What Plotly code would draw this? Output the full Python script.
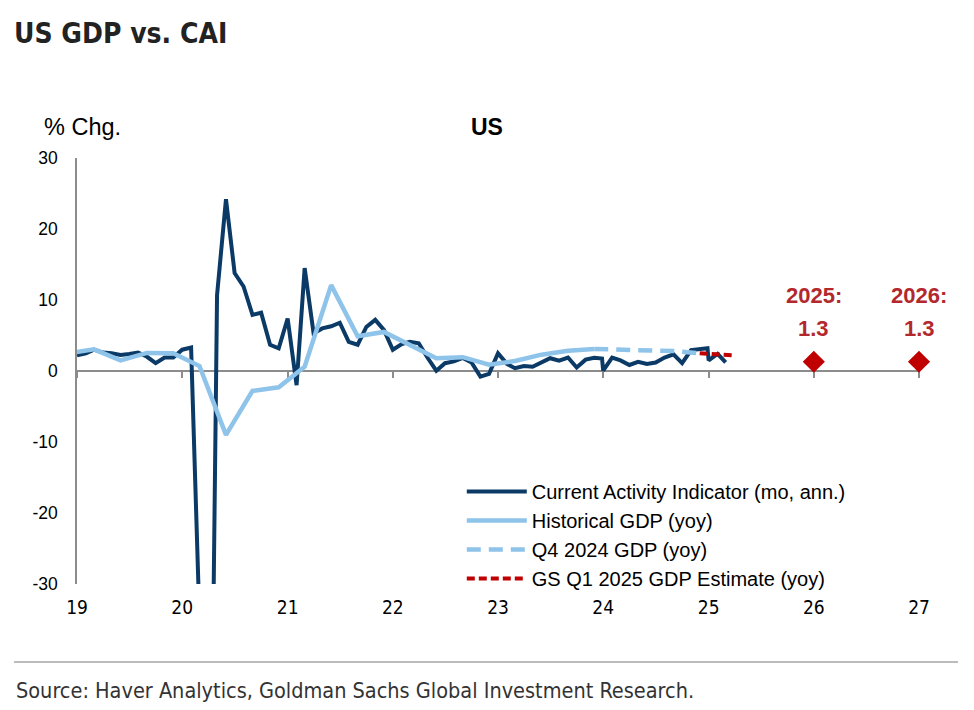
import plotly.graph_objects as go

# ---------------- data ----------------
cai_dates = [
    "2019-01", "2019-02", "2019-03", "2019-04", "2019-05", "2019-06",
    "2019-07", "2019-08", "2019-09", "2019-10", "2019-11", "2019-12",
    "2020-01", "2020-02", "2020-03", "2020-04", "2020-05", "2020-06",
    "2020-07", "2020-08", "2020-09", "2020-10", "2020-11", "2020-12",
    "2021-01", "2021-02", "2021-03", "2021-04", "2021-05", "2021-06",
    "2021-07", "2021-08", "2021-09", "2021-10", "2021-11", "2021-12",
    "2022-01", "2022-02", "2022-03", "2022-04", "2022-05", "2022-06",
    "2022-07", "2022-08", "2022-09", "2022-10", "2022-11", "2022-12",
    "2023-01", "2023-02", "2023-03", "2023-04", "2023-05", "2023-06",
    "2023-07", "2023-08", "2023-09", "2023-10", "2023-11", "2023-12",
    "2023-12-28",
    "2024-01", "2024-02", "2024-03", "2024-04", "2024-05", "2024-06",
    "2024-07", "2024-08", "2024-09", "2024-10", "2024-11", "2024-12",
    "2024-12-28",
    "2025-01", "2025-02", "2025-03",
]
cai_values = [
    2.2, 2.5, 3.0, 2.6, 2.5, 2.25, 2.4, 2.6, 2.0, 1.1, 1.9, 1.9,
    3.0, 3.3, -35.0, -95.0, 10.7, 24.2, 13.8, 11.9, 7.9, 8.2, 3.7, 3.2,
    7.4, -2.0, 14.5, 5.3, 6.0, 6.3, 6.8, 4.1, 3.7, 6.2, 7.2, 5.8,
    3.0, 3.8, 4.1, 3.9, 1.9, 0.05, 1.1, 1.35, 1.85, 1.2, -0.8, -0.4,
    2.5, 1.0, 0.4, 0.7, 0.6, 1.2, 1.8, 1.45, 1.9, 0.5, 1.6, 1.85,
    1.75,
    0.05, 1.9, 1.5, 0.85, 1.3, 1.0, 1.2, 1.9, 2.35, 1.1, 2.95, 3.1,
    3.2,
    1.5, 2.4, 1.2,
]

gdp_dates = [
    "2018-12", "2019-03", "2019-06", "2019-09", "2019-12",
    "2020-03", "2020-06", "2020-09", "2020-12",
    "2021-03", "2021-06", "2021-09", "2021-12",
    "2022-03", "2022-06", "2022-09", "2022-12",
    "2023-03", "2023-06", "2023-09", "2023-12",
]
gdp_values = [
    2.5, 3.05, 1.5, 2.55, 2.5,
    0.7, -9.0, -2.8, -2.3,
    0.6, 12.1, 4.9, 5.5,
    3.7, 1.8, 1.95, 0.9,
    1.4, 2.3, 2.85, 3.1,
]

q4_dates = ["2023-12", "2024-03", "2024-06", "2024-09", "2024-12"]
q4_values = [3.1, 3.05, 3.0, 2.8, 2.5]

gs_dates = ["2024-12", "2025-04"]
gs_values = [2.5, 2.2]

annual_dates = ["2026-01", "2027-01"]
annual_values = [1.3, 1.3]
annual_labels = ["2025:", "2026:"]

year_ticks = ["2019-01-01", "2020-01-01", "2021-01-01", "2022-01-01", "2023-01-01",
              "2024-01-01", "2025-01-01", "2026-01-01", "2027-01-01"]
year_labels = ["19", "20", "21", "22", "23", "24", "25", "26", "27"]

y_ticks = [-30, -20, -10, 0, 10, 20, 30]
y_labels = ["-30", "-20", "-10", "0", "10", "20", "30"]

# ---------------- styles ----------------
DARK = "#0B3A66"
LIGHT = "#8EC3EA"
RED = "#C00000"
RED_TXT = "#B3282D"
GREY = "#8C8C8C"
FONT = "Liberation Sans, Arial, sans-serif"
NARROW = "DejaVu Sans Condensed, Liberation Sans Narrow, Arial Narrow, sans-serif"

fig = go.Figure()

fig.add_trace(go.Scatter(
    x=cai_dates, y=cai_values, mode="lines",
    name="Current Activity Indicator (mo, ann.)",
    line=dict(color=DARK, width=4), legendgroup="a",
))
fig.add_trace(go.Scatter(
    x=gdp_dates, y=gdp_values, mode="lines",
    name="Historical GDP (yoy)",
    line=dict(color=LIGHT, width=4.5), legendgroup="b",
))
fig.add_trace(go.Scatter(
    x=q4_dates, y=q4_values, mode="lines",
    name="Q4 2024 GDP (yoy)",
    line=dict(color=LIGHT, width=4.5, dash="14px,8px"), legendgroup="c",
))
fig.add_trace(go.Scatter(
    x=gs_dates, y=gs_values, mode="lines",
    name="GS Q1 2025 GDP Estimate (yoy)",
    line=dict(color=RED, width=4, dash="8px,4px"), legendgroup="d",
))
fig.add_trace(go.Scatter(
    x=annual_dates, y=annual_values, mode="markers",
    marker=dict(symbol="diamond", size=17, color=RED),
    showlegend=False, cliponaxis=False,
))
# invisible trace to carry the zero-line axis
fig.add_trace(go.Scatter(
    x=[year_ticks[0], year_ticks[-1]], y=[0, 0], mode="lines",
    line=dict(width=0), xaxis="x2", showlegend=False, hoverinfo="skip",
))

for d, v, lab in zip(annual_dates, annual_values, annual_labels):
    fig.add_annotation(x=d, y=v, text=f"<b>{lab}</b>", showarrow=False,
                       yshift=66, font=dict(family=FONT, size=22, color=RED_TXT))
    fig.add_annotation(x=d, y=v, text=f"<b>{v:.1f}</b>", showarrow=False,
                       yshift=33, font=dict(family=FONT, size=22, color=RED_TXT))

fig.add_annotation(xref="paper", yref="paper", x=0.007, y=1.0728,
                   xanchor="center", yanchor="middle",
                   text="% Chg.", showarrow=False,
                   font=dict(family=FONT, size=23.5, color="#000000"))
fig.add_annotation(xref="paper", yref="paper", x=0.487, y=1.0728,
                   xanchor="center", yanchor="middle",
                   text="<b>US</b>", showarrow=False,
                   font=dict(family=FONT, size=23, color="#000000"))
fig.add_annotation(xref="paper", yref="paper", x=-0.0748, y=-0.249,
                   xanchor="left", yanchor="middle",
                   text="Source: Haver Analytics, Goldman Sachs Global Investment Research.",
                   showarrow=False,
                   font=dict(family=NARROW, size=21.5, color="#333333"))

fig.add_shape(type="line", xref="paper", yref="paper",
              x0=-0.0748, x1=1.0463, y0=-0.183, y1=-0.183,
              line=dict(color="#A6A6A6", width=1.5))

fig.update_layout(
    width=966, height=702,
    margin=dict(l=69, r=55, t=150, b=126),
    paper_bgcolor="white", plot_bgcolor="white",
    title=dict(text="<b>US GDP vs. CAI</b>", x=6 / 966, xref="container",
               y=1 - 25 / 702, yref="container", xanchor="left", yanchor="middle",
               font=dict(family=NARROW, size=28, color="#222222")),
    showlegend=True,
    legend=dict(x=0.457, y=0.2630, xanchor="left", yanchor="top",
                bgcolor="rgba(0,0,0,0)", traceorder="grouped",
                tracegroupgap=0, itemwidth=60,
                font=dict(family=FONT, size=20, color="#000000")),
    xaxis=dict(type="date", range=[year_ticks[0], year_ticks[-1]],
               tickvals=year_ticks, ticktext=year_labels,
               showgrid=False, zeroline=False, showline=False, ticks="",
               ticklabelstandoff=10,
               tickfont=dict(family=NARROW, size=19, color="#000000")),
    xaxis2=dict(type="date", overlaying="x", matches="x", anchor="free",
                position=0.5, side="bottom",
                tickvals=year_ticks, showticklabels=False,
                showgrid=False, zeroline=False, showline=True,
                linecolor=GREY, linewidth=1.5,
                ticks="outside", ticklen=6, tickcolor=GREY, tickwidth=1.5,
                layer="below traces"),
    yaxis=dict(range=[-30, 30], tickvals=y_ticks, ticktext=y_labels,
               showgrid=False, zeroline=False, showline=True,
               linecolor=GREY, linewidth=1.5, ticks="",
               ticklabelstandoff=14,
               tickfont=dict(family=FONT, size=17.5, color="#000000")),
)

fig.write_html("out.html")
